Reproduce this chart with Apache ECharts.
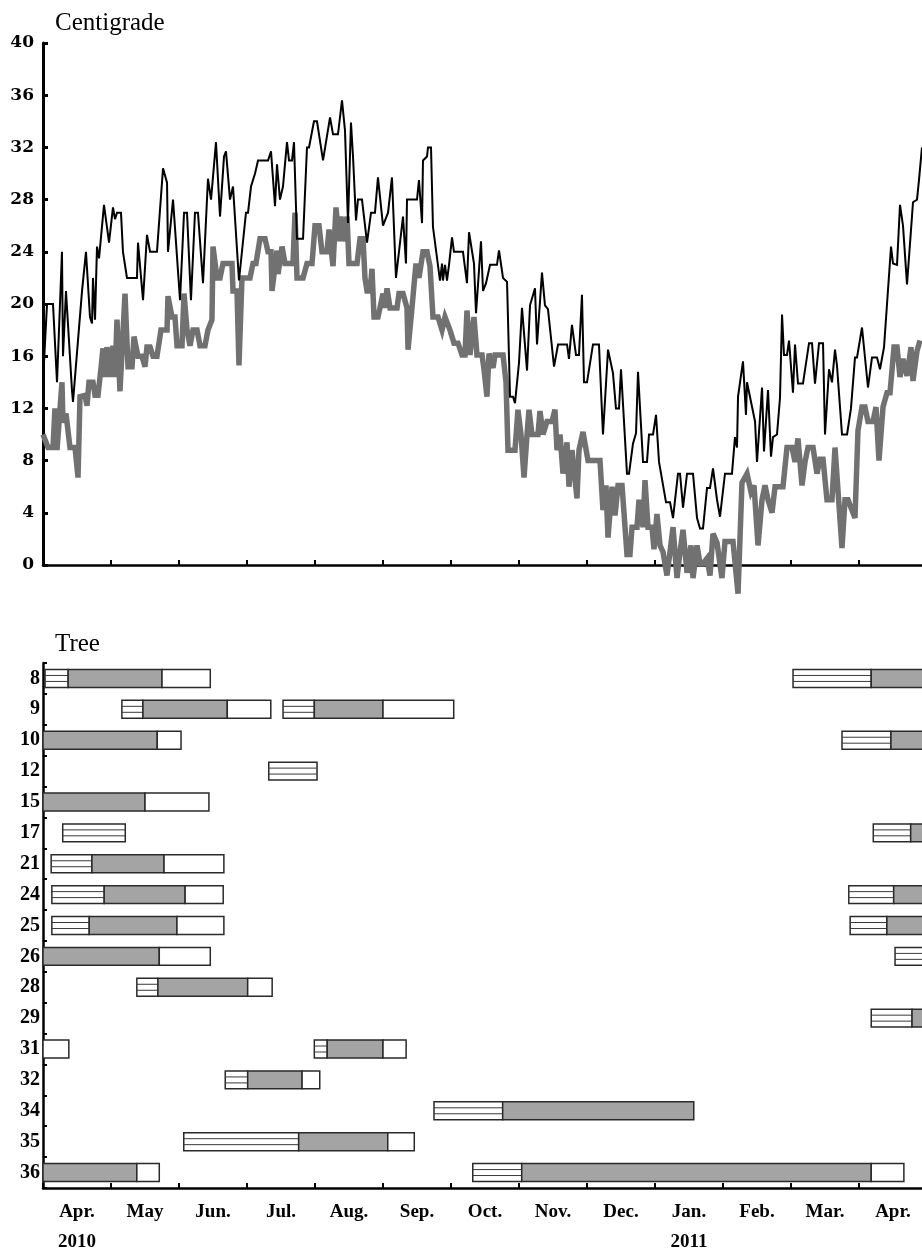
<!DOCTYPE html>
<html>
<head>
<meta charset="utf-8">
<script src="https://cdn.jsdelivr.net/npm/echarts@6/dist/echarts.min.js"></script>
<style>html,body{margin:0;padding:0;background:#fff}#c{width:922px;height:1249px}</style>
</head>
<body>
<div id="c"></div>
<script>
// x positions are in months from 1 Apr 2010 (0 = Apr 1 2010, 9 = Jan 1 2011)
const monthNames = ['Apr.','May','Jun.','Jul.','Aug.','Sep.','Oct.','Nov.','Dec.','Jan.','Feb.','Mar.','Apr.'];
const yearLabels = {0:'2010', 9:'2011'};
const tempTicks = [0,4,8,12,16,20,24,28,32,36,40];
const trees = ['8','9','10','12','15','17','21','24','25','26','28','29','31','32','34','35','36'];

// daily maximum temperature (black line) [month position, °C]
const tMax = [
[0,14],[0.059,20],[0.147,20],[0.206,14],[0.279,24],[0.294,16],[0.338,21],[0.426,13.4],[0.441,12.5],
[0.574,21],[0.603,21],[0.632,24],[0.691,19],[0.721,18.5],[0.735,22],[0.765,18.8],[0.794,24.4],[0.824,23.5],
[0.897,27.6],[0.971,24.7],[1.029,27.4],[1.059,26.5],[1.088,27],[1.147,27],[1.176,24],[1.235,22],[1.382,22],
[1.397,24.7],[1.471,20.3],[1.529,25.3],[1.574,24],[1.676,24],[1.765,30.4],[1.824,29.3],[1.838,24],[1.912,28],
[1.941,28],[2.015,20.3],[2.074,27],[2.118,27],[2.176,20.3],[2.235,27],[2.279,27],[2.353,21.6],[2.426,29.6],
[2.471,28],[2.5,28],[2.544,32.4],[2.603,26.7],[2.662,31.3],[2.691,31.7],[2.75,28],[2.794,29],[2.882,21.8],
[2.985,27],[3.015,27],[3.059,29],[3.118,30],[3.162,31],[3.309,31],[3.353,31.7],[3.412,27.5],[3.441,30.7],
[3.485,28],[3.529,29],[3.588,32.4],[3.618,31],[3.662,31],[3.691,32.4],[3.735,25],[3.824,25],[3.882,32],
[3.912,32],[3.985,34],[4.029,34],[4.118,31],[4.147,31],[4.221,34.3],[4.265,33],[4.338,33],[4.397,35.6],
[4.441,33.3],[4.485,26.2],[4.529,33.9],[4.559,31.3],[4.603,26.4],[4.632,28],[4.691,28],[4.765,24.7],[4.824,27],
[4.882,27],[4.926,29.7],[5.0,26],[5.029,26],[5.074,27],[5.132,29.7],[5.191,22],[5.294,26.7],[5.338,23.1],
[5.353,28],[5.5,28],[5.529,29.5],[5.574,26.2],[5.588,31],[5.647,31.3],[5.662,32],[5.706,32],[5.735,25.9],
[5.838,21.8],[5.868,23.1],[5.882,21.8],[5.912,23],[5.941,21.8],[5.971,23],[6.015,25.1],[6.044,24],[6.176,24],
[6.235,21.6],[6.265,25.5],[6.338,23.1],[6.368,19.3],[6.441,24.8],[6.471,21],[6.515,21.6],[6.574,23],[6.676,23],
[6.706,24.1],[6.765,22],[6.824,21.7],[6.868,12.9],[6.912,12.9],[6.941,12.4],[7.0,15.5],[7.044,19.7],[7.118,14.9],
[7.162,19.9],[7.235,21.2],[7.265,16.9],[7.338,22.4],[7.382,19.9],[7.426,19.6],[7.515,15.2],[7.574,16.9],
[7.706,16.9],[7.735,15.8],[7.779,18.4],[7.838,16.1],[7.882,16.1],[7.926,20.7],[7.956,14],[8.0,14],[8.088,16.9],
[8.176,16.9],[8.235,10],[8.309,16.5],[8.382,14.7],[8.426,12],[8.471,12],[8.5,15],[8.588,7],[8.618,7],[8.676,9.3],
[8.721,10.1],[8.75,14.8],[8.824,7.9],[8.882,7.9],[8.912,10],[8.971,10],[9.015,11.5],[9.059,7.9],[9.162,4.8],
[9.221,4.8],[9.265,3.6],[9.338,7],[9.368,7],[9.412,4.4],[9.471,7],[9.559,7],[9.618,3.6],[9.662,2.8],[9.706,2.8],
[9.765,5.9],[9.809,5.9],[9.853,7.4],[9.912,5],[9.956,3.7],[10.029,7],[10.132,7],[10.176,9.8],[10.206,9],
[10.221,12.9],[10.294,15.6],[10.338,11.5],[10.353,14],[10.471,11],[10.5,7.9],[10.529,7.9],[10.574,13.6],
[10.603,8.7],[10.632,8.7],[10.662,13.4],[10.706,8.3],[10.735,9.8],[10.794,10],[10.838,12.8],[10.868,19.2],
[10.897,16.1],[10.941,16.1],[10.971,17.2],[11.029,13.2],[11.059,16.9],[11.103,13.9],[11.176,13.9],[11.265,17],
[11.309,17],[11.353,13.9],[11.412,17],[11.471,17],[11.5,10],[11.559,15],[11.603,14],[11.647,16.5],[11.676,15.3],
[11.75,10],[11.824,10],[11.882,12],[11.941,15.9],[11.971,15.9],[12.044,18.2],[12.132,13.6],[12.191,15.9],
[12.265,15.9],[12.309,15],[12.368,16.7],[12.412,20],[12.471,24.4],[12.5,23.1],[12.559,23],[12.603,27.6],
[12.647,26],[12.706,21.5],[12.779,26.7],[12.794,27.8],[12.853,28],[12.882,29.5],[12.926,32]
];

// daily minimum temperature (grey line) [month position, °C]
const tMin = [
[0,10],[0.074,9],[0.147,9],[0.176,12],[0.206,8.8],[0.279,14],[0.294,10.9],[0.338,11.6],[0.397,9],[0.471,9],
[0.515,6.7],[0.544,12.9],[0.618,13],[0.647,12.2],[0.676,14],[0.735,14],[0.765,13],[0.809,13],[0.853,15.1],
[0.882,16.6],[0.912,14.4],[0.941,16.7],[0.985,14.4],[1.029,16.8],[1.059,14.4],[1.088,18.8],[1.132,13.3],
[1.206,20.8],[1.25,15.2],[1.309,15.2],[1.338,17.5],[1.397,16],[1.456,16],[1.5,15.2],[1.529,16.7],[1.574,16.7],
[1.618,16],[1.676,16],[1.735,18],[1.824,18],[1.838,20.6],[1.897,19],[1.941,19],[1.971,16.8],[2.044,16.8],
[2.074,20.8],[2.118,18],[2.162,16.8],[2.206,18],[2.265,18],[2.309,16.8],[2.382,16.8],[2.426,18],[2.485,18.8],
[2.5,24.4],[2.559,22],[2.603,22],[2.647,23.1],[2.779,23.1],[2.794,21],[2.853,21],[2.882,15.3],[2.926,22],
[3.044,22],[3.088,23.1],[3.132,23.1],[3.191,25],[3.265,25],[3.309,24],[3.353,24],[3.368,21],[3.441,24.1],
[3.456,22.3],[3.515,24.4],[3.559,23.1],[3.676,23.1],[3.706,27],[3.735,22],[3.824,22],[3.882,23.1],[3.956,23.1],
[4.0,26],[4.059,26],[4.103,24],[4.176,24],[4.206,25.7],[4.265,22.9],[4.309,27.4],[4.353,24.8],[4.382,26.7],
[4.412,24.8],[4.471,26.7],[4.5,23.1],[4.618,23.1],[4.662,25],[4.706,25],[4.735,22],[4.765,21],[4.809,21],
[4.838,22.7],[4.868,19],[4.926,19],[4.956,19.7],[5.0,20.8],[5.029,19.7],[5.059,21.2],[5.103,19.7],[5.206,19.7],
[5.235,20.8],[5.294,20.8],[5.353,19.7],[5.368,16.5],[5.426,19.7],[5.485,23.1],[5.529,22],[5.588,24],[5.647,24],
[5.691,22.9],[5.735,19],[5.809,19],[5.868,18],[5.912,19],[5.941,19],[5.985,18],[6.044,17],[6.103,17],
[6.162,16.1],[6.206,16.1],[6.235,19.5],[6.279,16.1],[6.338,19],[6.382,16.1],[6.456,16.1],[6.485,15],[6.529,12.9],
[6.559,16.2],[6.618,15.1],[6.647,16.1],[6.765,16.1],[6.809,14],[6.838,8.8],[6.941,8.8],[6.985,11.9],[7.029,10],
[7.074,6.7],[7.118,10],[7.147,11.9],[7.191,10],[7.279,10],[7.309,11.8],[7.353,10],[7.412,11],[7.485,11],
[7.529,11.9],[7.559,8.8],[7.603,10],[7.647,7],[7.706,9.4],[7.735,6],[7.779,8.8],[7.853,5.1],[7.882,8.8],
[7.941,10.2],[8.015,8],[8.191,8],[8.235,4.2],[8.279,6.1],[8.309,2.1],[8.368,6],[8.412,3.8],[8.456,6.1],
[8.515,6.1],[8.588,0.8],[8.632,0.8],[8.662,2.9],[8.735,2.9],[8.765,5],[8.824,2.9],[8.853,6.5],[8.897,2.9],
[8.956,2.9],[8.985,1.2],[9.029,3.9],[9.074,1.5],[9.118,1],[9.176,-0.8],[9.221,1],[9.265,2.9],[9.324,-1],
[9.368,1],[9.412,2.7],[9.471,-0.6],[9.529,1.5],[9.559,-1],[9.618,1.5],[9.662,0.1],[9.706,0.1],[9.765,0.5],
[9.809,-0.8],[9.853,2.4],[9.912,1.7],[9.985,-1],[10.029,1.8],[10.147,1.8],[10.221,-2.2],[10.279,6.3],[10.353,7],
[10.412,5.6],[10.456,6.1],[10.515,1.5],[10.574,5],[10.618,6.1],[10.662,5],[10.721,4],[10.765,6],[10.882,6],
[10.941,9],[11.015,9],[11.059,7.9],[11.103,9.7],[11.162,6.1],[11.206,7.9],[11.25,9],[11.324,9],[11.382,7],
[11.426,8.1],[11.471,8.1],[11.529,5],[11.603,5],[11.647,9],[11.676,9],[11.75,1.3],[11.794,5],[11.838,5],
[11.941,3.6],[11.985,10.3],[12.044,12.1],[12.088,12.1],[12.132,11],[12.206,11],[12.25,12.1],[12.294,8],
[12.353,12.1],[12.412,13.2],[12.456,13.2],[12.515,16.7],[12.559,16.7],[12.603,14.4],[12.647,15.8],[12.706,14.5],
[12.765,16.7],[12.794,14.1],[12.853,16.4],[12.897,17.2]
];

// phases per tree: [tree, start month, end month]
const stripedSegs = [
['8',0.03,0.37],['8',11.03,12.18],['9',1.16,1.47],['9',3.53,3.99],['10',11.75,12.47],['12',3.32,4.03],
['17',0.29,1.21],['17',12.21,12.76],['21',0.12,0.72],['24',0.13,0.9],['24',11.85,12.51],['25',0.13,0.68],
['25',11.87,12.41],['26',12.53,13.2],['28',1.38,1.69],['29',12.18,12.78],['31',3.99,4.18],['32',2.68,3.01],
['34',5.75,6.76],['35',2.07,3.76],['36',6.32,7.04]
];
const graySegs = [
['8',0.37,1.75],['8',12.18,13.2],['9',1.47,2.71],['9',3.99,5.0],['10',0,1.68],['10',12.47,13.2],['15',0,1.5],
['17',12.76,13.2],['21',0.72,1.78],['24',0.9,2.09],['24',12.51,13.2],['25',0.68,1.97],['25',12.41,13.2],
['26',0,1.71],['28',1.69,3.01],['29',12.78,13.2],['31',4.18,5.0],['32',3.01,3.81],['34',6.76,9.57],
['35',3.76,5.07],['36',0,1.38],['36',7.04,12.18]
];
const whiteSegs = [
['8',1.75,2.46],['9',2.71,3.35],['9',5.0,6.04],['10',1.68,2.03],['15',1.5,2.44],['21',1.78,2.66],
['24',2.09,2.65],['25',1.97,2.66],['26',1.71,2.46],['28',3.01,3.37],['31',0,0.38],['31',5.0,5.34],
['32',3.81,4.07],['35',5.07,5.46],['36',1.38,1.71],['36',12.18,12.66]
];

const SERIF = '"Liberation Serif", "Times New Roman", serif';
const WIDE_SERIF = '"DejaVu Serif", serif';
const chart = echarts.init(document.getElementById('c'), null, {renderer: 'canvas'});

function segRenderer(kind) {
  return function (params, api) {
    const cat = api.value(0);
    const p0 = api.coord([api.value(1), cat]);
    const p1 = api.coord([api.value(2), cat]);
    const h = api.size([0, 1])[1] * 0.58;
    const x0 = p0[0], x1 = p1[0], top = p0[1] - h / 2;
    const children = [{
      type: 'rect',
      shape: {x: x0, y: top, width: x1 - x0, height: h},
      style: {fill: kind === 'gray' ? '#a4a4a4' : '#ffffff', stroke: '#2a2a2a', lineWidth: 1.5}
    }];
    if (kind === 'striped') {
      [1, 2].forEach(function (k) {
        const yy = top + h * k / 3;
        children.push({type: 'line', shape: {x1: x0, y1: yy, x2: x1, y2: yy},
          style: {stroke: '#3a3a3a', lineWidth: 1}});
      });
    }
    return {type: 'group', children: children};
  };
}

function segSeries(data, kind) {
  return {
    type: 'custom', xAxisIndex: 1, yAxisIndex: 1,
    renderItem: segRenderer(kind),
    encode: {x: [1, 2], y: 0},
    data: data.map(function (d) { return [trees.indexOf(d[0]), d[1], d[2]]; }),
    clip: false, silent: true
  };
}

chart.setOption({
  animation: false,
  backgroundColor: '#fff',
  title: [
    {text: 'Centigrade', left: 50, top: 6, textStyle: {fontFamily: SERIF, fontSize: 25, fontWeight: 'normal', color: '#000'}},
    {text: 'Tree', left: 50, top: 627, textStyle: {fontFamily: SERIF, fontSize: 25, fontWeight: 'normal', color: '#000'}}
  ],
  grid: [
    {left: 43, width: 884, top: 43, height: 522, containLabel: false, outerBoundsMode: 'none'},
    {left: 43, width: 884, top: 663, height: 525, containLabel: false, outerBoundsMode: 'none'}
  ],
  xAxis: [
    {type: 'value', gridIndex: 0, min: 0, max: 13, interval: 1,
     axisLine: {show: true, onZero: false, lineStyle: {color: '#000', width: 2.5}},
     axisTick: {show: true, inside: true, length: 5, lineStyle: {color: '#000', width: 2}},
     axisLabel: {show: false}, splitLine: {show: false}},
    {type: 'value', gridIndex: 1, min: 0, max: 13, interval: 1, position: 'bottom',
     axisLine: {show: true, onZero: false, lineStyle: {color: '#000', width: 2.5}},
     axisTick: {show: true, inside: true, length: 5, lineStyle: {color: '#000', width: 2}},
     axisLabel: {show: false}, splitLine: {show: false}},
    {type: 'category', gridIndex: 1, position: 'bottom', data: monthNames,
     axisLine: {show: false}, axisTick: {show: false}, splitLine: {show: false},
     axisLabel: {fontFamily: SERIF, fontSize: 19, fontWeight: 'bold', color: '#000', margin: 9, lineHeight: 30, interval: 0,
       formatter: function (v, i) { return yearLabels[i] ? v + '\n' + yearLabels[i] : v; }}}
  ],
  yAxis: [
    {type: 'value', gridIndex: 0, min: tempTicks[0], max: tempTicks[tempTicks.length - 1], interval: 4,
     axisLine: {show: true, lineStyle: {color: '#000', width: 3}},
     axisTick: {show: true, inside: true, length: 5, lineStyle: {color: '#000', width: 3}},
     axisLabel: {fontFamily: WIDE_SERIF, fontSize: 17, fontWeight: 'bold', color: '#000', margin: 9},
     splitLine: {show: false}},
    {type: 'category', gridIndex: 1, data: trees, inverse: true,
     axisLine: {show: true, lineStyle: {color: '#000', width: 2.5}},
     axisTick: {show: true, inside: true, length: 4, lineStyle: {color: '#000', width: 2}},
     axisLabel: {fontFamily: SERIF, fontSize: 20, fontWeight: 'bold', color: '#000', margin: 3, interval: 0},
     splitLine: {show: false}}
  ],
  series: [
    {type: 'line', xAxisIndex: 0, yAxisIndex: 0, data: tMin, showSymbol: false, clip: false, z: 2,
     lineStyle: {color: '#717171', width: 5.5, join: 'miter', miterLimit: 4}},
    {type: 'line', xAxisIndex: 0, yAxisIndex: 0, data: tMax, showSymbol: false, clip: false, z: 3,
     lineStyle: {color: '#000', width: 2, join: 'miter', miterLimit: 4}},
    segSeries(stripedSegs, 'striped'),
    segSeries(graySegs, 'gray'),
    segSeries(whiteSegs, 'white')
  ]
});
</script>
</body>
</html>
